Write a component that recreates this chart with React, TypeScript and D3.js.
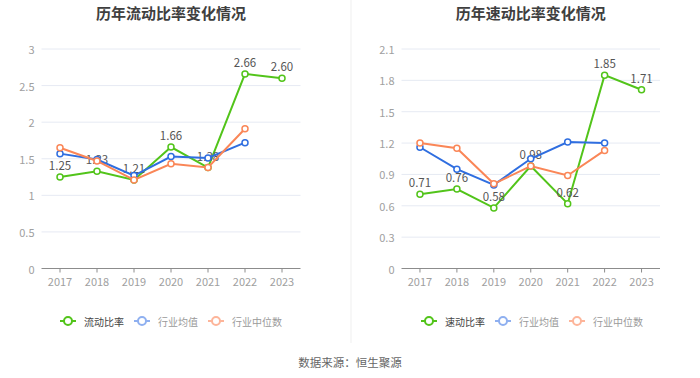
import React from "react";
import * as d3 from "d3";

const years = ["2017", "2018", "2019", "2020", "2021", "2022", "2023"];

const currentRatio = [1.25, 1.33, 1.21, 1.66, 1.38, 2.66, 2.6];
const currentIndustryMean = [1.57, 1.49, 1.27, 1.53, 1.51, 1.72, null];
const currentIndustryMedian = [1.65, 1.47, 1.21, 1.43, 1.38, 1.91, null];
const currentTicks = [0, 0.5, 1, 1.5, 2, 2.5, 3];

const quickRatio = [0.71, 0.76, 0.58, 0.98, 0.62, 1.85, 1.71];
const quickIndustryMean = [1.16, 0.95, 0.8, 1.05, 1.21, 1.2, null];
const quickIndustryMedian = [1.2, 1.15, 0.81, 0.98, 0.89, 1.13, null];
const quickTicks = [0, 0.3, 0.6, 0.9, 1.2, 1.5, 1.8, 2.1];

const GREEN = "#52c41a";
const BLUE = "#2f6ee0";
const ORANGE = "#fa8657";
const FONT = "'Noto Sans CJK SC', 'Noto Sans', sans-serif";

type PanelProps = {
  left: number;
  right: number;
  title: string;
  mainName: string;
  main: (number | null)[];
  mean: (number | null)[];
  median: (number | null)[];
  ticks: number[];
  fmtTick: (v: number) => string;
  legendX: number;
};

function Panel(p: PanelProps) {
  const top = 49;
  const bottom = 268.5;
  const x = d3.scaleBand<string>().domain(years).range([p.left, p.right]);
  const cx = (y: string) => (x(y) as number) + x.bandwidth() / 2;
  const y = d3
    .scaleLinear()
    .domain([0, p.ticks[p.ticks.length - 1]])
    .range([bottom, top]);
  const line = d3
    .line<number | null>()
    .defined((d) => d != null)
    .x((_, i) => cx(years[i]))
    .y((d) => y(d as number));

  const series = [
    { data: p.main, color: GREEN, labels: true },
    { data: p.mean, color: BLUE, labels: false },
    { data: p.median, color: ORANGE, labels: false },
  ];

  const legendItems = [
    { name: p.mainName, color: GREEN, text: "#444", w: 74 },
    { name: "行业均值", color: "#8fb0f0", text: "#9a9a9a", w: 74 },
    { name: "行业中位数", color: "#fdb59a", text: "#9a9a9a", w: 80 },
  ];
  let lx = p.legendX;

  return (
    <g>
      <text
        x={(p.left + p.right) / 2}
        y={12}
        textAnchor="middle"
        dominantBaseline="central"
        fontSize={15}
        fontWeight="bold"
        fill="#3f3f3f"
        fontFamily={FONT}
      >
        {p.title}
      </text>
      {p.ticks.map((t) => (
        <g key={t}>
          {t !== 0 && (
            <line x1={p.left} x2={p.right} y1={y(t)} y2={y(t)} stroke="#e6eaf3" strokeWidth={1} />
          )}
          <text
            x={p.left - 7}
            y={y(t)}
            textAnchor="end"
            dominantBaseline="central"
            fontSize={11}
            fill="#a0a0a0"
            fontFamily={FONT}
          >
            {p.fmtTick(t)}
          </text>
        </g>
      ))}
      <line x1={p.left} x2={p.right} y1={bottom} y2={bottom} stroke="#8c8c8c" strokeWidth={1} />
      {years.map((yr) => (
        <g key={yr}>
          <line x1={cx(yr)} x2={cx(yr)} y1={bottom} y2={bottom + 4} stroke="#8c8c8c" />
          <text
            x={cx(yr)}
            y={bottom + 12}
            textAnchor="middle"
            dominantBaseline="central"
            fontSize={11}
            fill="#a0a0a0"
            fontFamily={FONT}
          >
            {yr}
          </text>
        </g>
      ))}
      {series.map((s, si) => (
        <g key={si}>
          <path d={line(s.data) || ""} fill="none" stroke={s.color} strokeWidth={2} />
          {s.data.map((v, i) =>
            v == null ? null : (
              <circle
                key={i}
                cx={cx(years[i])}
                cy={y(v)}
                r={3}
                fill="#fff"
                stroke={s.color}
                strokeWidth={1.5}
              />
            )
          )}
          {s.labels &&
            s.data.map((v, i) =>
              v == null ? null : (
                <text
                  key={"l" + i}
                  x={cx(years[i])}
                  y={y(v) - 12}
                  textAnchor="middle"
                  dominantBaseline="central"
                  fontSize={11.5}
                  fill="#555"
                  fontFamily={FONT}
                >
                  {v.toFixed(2)}
                </text>
              )
            )}
        </g>
      ))}
      {legendItems.map((it, i) => {
        const x0 = lx;
        lx += it.w;
        return (
          <g key={i}>
            <line x1={x0} x2={x0 + 16} y1={321} y2={321} stroke={it.color} strokeWidth={2} />
            <circle cx={x0 + 8} cy={321} r={4} fill="#fff" stroke={it.color} strokeWidth={2} />
            <text
              x={x0 + 24}
              y={321}
              dominantBaseline="central"
              fontSize={10}
              fill={it.text}
              fontFamily={FONT}
            >
              {it.name}
            </text>
          </g>
        );
      })}
    </g>
  );
}

export default function App() {
  return (
    <svg width={700} height={378} style={{ display: "block", position: "absolute", left: 0, top: 0 }}>
      <rect width={700} height={378} fill="#fff" />
      <line x1={351} x2={351} y1={0} y2={343} stroke="#efefef" strokeWidth={1} />
      <Panel
        left={41.5}
        right={300.5}
        title="历年流动比率变化情况"
        mainName="流动比率"
        main={currentRatio}
        mean={currentIndustryMean}
        median={currentIndustryMedian}
        ticks={currentTicks}
        fmtTick={(v) => String(v)}
        legendX={60}
      />
      <Panel
        left={401.5}
        right={660}
        title="历年速动比率变化情况"
        mainName="速动比率"
        main={quickRatio}
        mean={quickIndustryMean}
        median={quickIndustryMedian}
        ticks={quickTicks}
        fmtTick={(v) => String(v)}
        legendX={421}
      />
      <text
        x={350}
        y={362}
        textAnchor="middle"
        dominantBaseline="central"
        fontSize={11.5}
        fill="#666"
        fontFamily={FONT}
      >
        数据来源：恒生聚源
      </text>
    </svg>
  );
}
